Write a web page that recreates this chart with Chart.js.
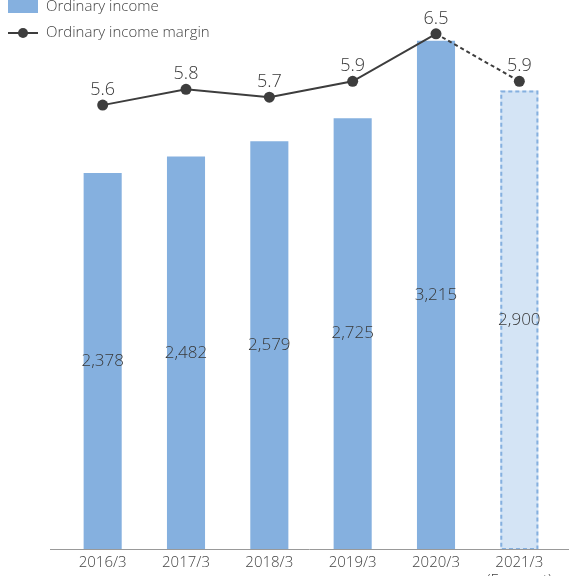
<!DOCTYPE html>
<html>
<head>
<meta charset="utf-8">
<script src="https://cdn.jsdelivr.net/npm/chart.js@4"></script>
<style>
  html, body { margin: 0; padding: 0; background: #fff; overflow: hidden; }
  #wrap { width: 569px; height: 600px; }
</style>
</head>
<body>
<div id="wrap"><canvas id="incomeChart" width="569" height="600"></canvas></div>
<script>
const years = ['2016/3', '2017/3', '2018/3', '2019/3', '2020/3', ['2021/3', '(Forecast)']];
const ordinaryIncome = [2378, 2482, 2579, 2725, 3215, 2900];
const incomeMargin = [5.6, 5.8, 5.7, 5.9, 6.5, 5.9];

const barBlue = '#85b0df';
const lightBlue = '#d4e4f5';
const dark = '#3d3d3d';
const textCol = '#444';

// value labels, forecast border, legend and base line
const extras = {
    id: 'extras',
    afterDatasetsDraw(chart) {
        const c = chart.ctx;
        const area = chart.chartArea;
        c.save();

        // dashed outline of the forecast bar
        const fb = chart.getDatasetMeta(1).data[5];
        c.strokeStyle = barBlue;
        c.lineWidth = 2;
        c.setLineDash([4, 3]);
        c.strokeRect(fb.x - fb.width / 2 + 1, fb.y + 1, fb.width - 2, fb.base - fb.y - 1);
        c.setLineDash([]);

        c.fillStyle = '#383838';
        c.textAlign = 'center';
        c.textBaseline = 'middle';
        c.font = '300 17px "Open Sans"';
        chart.getDatasetMeta(1).data.forEach((bar, i) => {
            const mid = (bar.y + bar.base) / 2;
            c.fillText(ordinaryIncome[i].toLocaleString('en-US'), bar.x, mid);
        });
        c.font = '300 18px "Open Sans"';
        chart.getDatasetMeta(0).data.forEach((pt, i) => {
            c.fillText(incomeMargin[i].toFixed(1), pt.x, pt.y - 15);
        });

        // axis line
        c.strokeStyle = '#999';
        c.lineWidth = 1;
        c.beginPath();
        c.moveTo(50, Math.round(area.bottom) + 0.5);
        c.lineTo(chart.width, Math.round(area.bottom) + 0.5);
        c.stroke();

        // legend
        c.textAlign = 'left';
        c.font = '300 15px "Open Sans"';
        c.fillStyle = barBlue;
        c.fillRect(8, -2, 30, 15);
        c.fillStyle = textCol;
        c.fillText('Ordinary income', 46, 7);
        c.strokeStyle = dark;
        c.lineWidth = 2;
        c.beginPath();
        c.moveTo(8, 33);
        c.lineTo(38, 33);
        c.stroke();
        c.fillStyle = dark;
        c.beginPath();
        c.arc(23, 33, 5, 0, Math.PI * 2);
        c.fill();
        c.fillStyle = textCol;
        c.fillText('Ordinary income margin', 46, 33);
        c.restore();
    }
};

new Chart(document.getElementById('incomeChart'), {
    data: {
        labels: years,
        datasets: [
            {
                type: 'line',
                label: 'Ordinary income margin',
                data: incomeMargin,
                yAxisID: 'y2',
                borderColor: dark,
                borderWidth: 2,
                pointRadius: 5.5,
                pointBackgroundColor: dark,
                pointBorderWidth: 0,
                segment: {
                    borderDash: ctx => ctx.p1DataIndex === 5 ? [4, 3] : undefined
                },
                order: 0
            },
            {
                type: 'bar',
                label: 'Ordinary income',
                data: ordinaryIncome,
                yAxisID: 'y',
                backgroundColor: ordinaryIncome.map((v, i) => i === 5 ? lightBlue : barBlue),
                borderWidth: 0,
                barPercentage: 0.457,
                categoryPercentage: 1,
                order: 1
            }
        ]
    },
    options: {
        responsive: false,
        animation: false,
        layout: { padding: { left: 61, right: 8, top: 10, bottom: 0 } },
        plugins: { legend: { display: false }, tooltip: { enabled: false } },
        scales: {
            x: {
                grid: { display: false },
                border: { display: false },
                ticks: { color: textCol, font: { family: 'Open Sans', size: 15, weight: 300 }, padding: -3, maxRotation: 0 },
                afterFit(scale) { scale.height = 51; }
            },
            y: { display: false, min: 0, max: 3409 },
            y2: { display: false, min: 0, max: 6.8 }
        }
    },
    plugins: [extras]
});
</script>
</body>
</html>
